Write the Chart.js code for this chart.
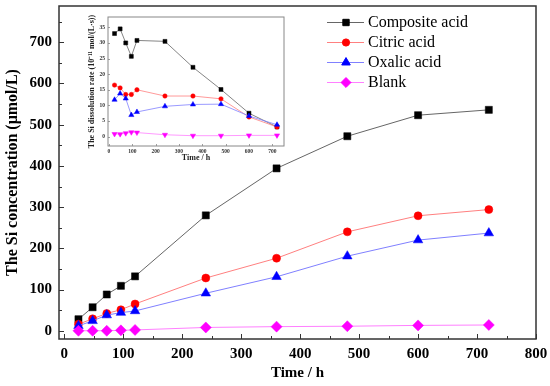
<!DOCTYPE html>
<html>
<head>
<meta charset="utf-8">
<script src="https://cdn.jsdelivr.net/npm/chart.js@4/dist/chart.umd.min.js"></script>
<style>
  html, body { margin: 0; padding: 0; background: #fff; }
  #wrap { position: relative; width: 550px; height: 386px; }
  #main { position: absolute; left: 0; top: 0; }
  #inset { position: absolute; left: 84px; top: 10px; }
</style>
</head>
<body>
<div id="wrap">
  <canvas id="main" width="550" height="386"></canvas>
  <canvas id="inset" width="206" height="164"></canvas>
</div>
<script>
// sampling times (h)
const hours = [24, 48, 72, 96, 120, 240, 360, 480, 600, 720];
const seriesNames = ["Composite acid", "Citric acid", "Oxalic acid", "Blank"];

// Si concentration (umol/L), main plot
const compositeConc = [28, 57, 88, 109, 132, 280, 394, 472, 523, 536];
const citricConc    = [16, 29, 42, 51, 65, 128, 176, 240, 279, 294];
const oxalicConc    = [12, 24, 38, 44, 48, 91, 131, 181, 220, 237];
const blankConc     = [0, 0, 0, 1, 2, 8, 10, 11, 13, 14];

// Si dissolution rate (10^-11 mol/(L·s)), inset
const compositeRate = [33.0, 34.5, 30.0, 25.7, 30.8, 30.5, 22.2, 15.1, 7.5, 3.1];
const citricRate    = [16.5, 15.6, 13.5, 13.5, 15.0, 13.0, 13.0, 12.1, 6.3, 3.1];
const oxalicRate    = [11.8, 13.8, 12.2, 6.9, 7.9, 9.7, 10.3, 10.4, 6.6, 3.8];
const blankRate     = [0.85, 0.8, 1.1, 1.4, 1.3, 0.6, 0.3, 0.3, 0.4, 0.4];

// tick labels
const xTicks = [0, 100, 200, 300, 400, 500, 600, 700, 800];
const yTicks = [0, 100, 200, 300, 400, 500, 600, 700];
const xMinor = [50, 150, 250, 350, 450, 550, 650, 750];
const yMinor = [50, 150, 250, 350, 450, 550, 650, 750];
const insetXTicks = [0, 100, 200, 300, 400, 500, 600, 700];
const insetYTicks = [0, 5, 10, 15, 20, 25, 30, 35];

const lineColors  = ["#666666", "#ff8080", "#8080ff", "#ff80ff"];
const pointColors = ["#000000", "#ff0000", "#0000ff", "#ff00ff"];
const mainStyles  = [
  { pointStyle: "rect", radius: 5, rotation: 0 },
  { pointStyle: "circle", radius: 4, rotation: 0 },
  { pointStyle: "triangle", radius: 5.5, rotation: 0 },
  { pointStyle: "rectRot", radius: 5.5, rotation: 0 }
];
const insetStyles = [
  { pointStyle: "rect", radius: 2.8, rotation: 0 },
  { pointStyle: "circle", radius: 2.2, rotation: 0 },
  { pointStyle: "triangle", radius: 3, rotation: 0 },
  { pointStyle: "triangle", radius: 3, rotation: 180 }
];

const serif = "'Liberation Serif', 'Times New Roman', serif";

function makeDatasets(series, styles, lineWidth) {
  return series.map((vals, i) => ({
    label: seriesNames[i],
    data: hours.map((h, j) => ({ x: h, y: vals[j] })),
    borderColor: lineColors[i],
    borderWidth: lineWidth,
    backgroundColor: pointColors[i],
    pointBackgroundColor: pointColors[i],
    pointBorderColor: pointColors[i],
    pointBorderWidth: 0.5,
    pointStyle: styles[i].pointStyle,
    pointRadius: styles[i].radius,
    pointRotation: styles[i].rotation,
    pointHoverRadius: styles[i].radius,
    tension: 0,
    order: 3 - i
  }));
}

// drop the label overhang padding so the plot box sits where we want it
function noPad(s) {
  s.paddingTop = 0; s.paddingBottom = 0; s.paddingLeft = 0; s.paddingRight = 0;
}

// frame round the plot area plus inward ticks
function frameTicks(cfg) {
  return {
    id: "frameTicks",
    afterDraw(chart) {
      const { ctx, chartArea: a, scales } = chart;
      ctx.save();
      ctx.strokeStyle = cfg.color;
      ctx.lineWidth = cfg.frameWidth;
      ctx.strokeRect(a.left, a.top, a.right - a.left, a.bottom - a.top);
      ctx.lineWidth = cfg.tickWidth;
      ctx.beginPath();
      const xt = (vals, len) => vals.forEach(v => {
        const px = Math.round(scales.x.getPixelForValue(v)) + 0.5;
        ctx.moveTo(px, a.bottom);
        ctx.lineTo(px, a.bottom - len);
      });
      const yt = (vals, len) => vals.forEach(v => {
        const py = Math.round(scales.y.getPixelForValue(v)) + 0.5;
        ctx.moveTo(a.left, py);
        ctx.lineTo(a.left + len, py);
      });
      xt(cfg.xMajor, cfg.major);
      yt(cfg.yMajor, cfg.major);
      xt(cfg.xMinor || [], cfg.minor);
      yt(cfg.yMinor || [], cfg.minor);
      ctx.stroke();
      ctx.restore();
    }
  };
}

// legend drawn inside the plot, top right
const mainLegend = {
  id: "mainLegend",
  afterDraw(chart) {
    const ctx = chart.ctx;
    ctx.save();
    seriesNames.forEach((name, i) => {
      const y = 22 + i * 20;
      ctx.strokeStyle = lineColors[i];
      ctx.lineWidth = 1;
      ctx.beginPath();
      ctx.moveTo(327, y + 0.5);
      ctx.lineTo(364, y + 0.5);
      ctx.stroke();
      ctx.fillStyle = pointColors[i];
      ctx.strokeStyle = pointColors[i];
      Chart.helpers.drawPoint(ctx, {
        pointStyle: mainStyles[i].pointStyle,
        radius: mainStyles[i].radius * 0.9,
        rotation: 0,
        borderWidth: 0.5
      }, 346, y + 0.5);
      ctx.fillStyle = "#000";
      ctx.font = "16px " + serif;
      ctx.textBaseline = "middle";
      ctx.textAlign = "left";
      ctx.fillText(name, 368, y + 1);
    });
    ctx.restore();
  }
};

const whiteBg = {
  id: "whiteBg",
  beforeDraw(chart) {
    const ctx = chart.ctx;
    ctx.save();
    ctx.fillStyle = "#fff";
    ctx.fillRect(0, 0, chart.width, chart.height);
    ctx.restore();
  }
};

const tickFont = { family: serif, size: 15, weight: "bold" };

new Chart(document.getElementById("main"), {
  type: "line",
  data: { datasets: makeDatasets([compositeConc, citricConc, oxalicConc, blankConc], mainStyles, 1) },
  options: {
    responsive: false,
    animation: false,
    events: [],
    layout: { padding: { top: 5, right: 14, left: 0, bottom: 0 } },
    plugins: { legend: { display: false }, tooltip: { enabled: false } },
    scales: {
      x: {
        type: "linear",
        min: -9,
        max: 800,
        afterBuildTicks: s => { s.ticks = xTicks.map(v => ({ value: v })); },
        afterFit: s => { s.height = 47; noPad(s); },
        grid: { display: false, drawTicks: false },
        border: { display: false },
        ticks: { color: "#000", font: tickFont, padding: 6, maxRotation: 0 },
        title: { display: true, text: "Time / h", color: "#000", font: { family: serif, size: 15, weight: "bold" }, padding: { top: 0, bottom: 4 } }
      },
      y: {
        type: "linear",
        min: -20,
        max: 788,
        afterBuildTicks: s => { s.ticks = yTicks.map(v => ({ value: v })); },
        afterFit: s => { s.width = 59; noPad(s); },
        grid: { display: false, drawTicks: false },
        border: { display: false },
        ticks: { color: "#000", font: tickFont, padding: 7 },
        title: { display: true, text: "The Si concentration (\u03bcmol/L)", color: "#000", font: { family: serif, size: 16, weight: "bold" }, padding: { top: 3, bottom: 0 } }
      }
    }
  },
  plugins: [whiteBg, frameTicks({ color: "#333", frameWidth: 1.5, tickWidth: 1, major: 5, minor: 3, xMajor: xTicks, yMajor: yTicks, xMinor: xMinor, yMinor: yMinor }), mainLegend]
});

const insetTickFont = { family: serif, size: 5.5, weight: "bold" };

new Chart(document.getElementById("inset"), {
  type: "line",
  data: { datasets: makeDatasets([compositeRate, citricRate, oxalicRate, blankRate], insetStyles, 0.8) },
  options: {
    responsive: false,
    animation: false,
    events: [],
    layout: { padding: { top: 7, right: 6, left: 0, bottom: 0 } },
    plugins: { legend: { display: false }, tooltip: { enabled: false } },
    scales: {
      x: {
        type: "linear",
        min: -4,
        max: 750,
        afterBuildTicks: s => { s.ticks = insetXTicks.map(v => ({ value: v })); },
        afterFit: s => { s.height = 28; noPad(s); },
        grid: { display: false, drawTicks: false },
        border: { display: false },
        ticks: { color: "#333", font: insetTickFont, padding: 2, maxRotation: 0 },
        title: { display: true, text: "Time / h", color: "#222", font: { family: serif, size: 8, weight: "bold" }, padding: { top: 0, bottom: 11 } }
      },
      y: {
        type: "linear",
        min: -3,
        max: 38.3,
        afterBuildTicks: s => { s.ticks = insetYTicks.map(v => ({ value: v })); },
        afterFit: s => { s.width = 24; noPad(s); },
        grid: { display: false, drawTicks: false },
        border: { display: false },
        ticks: { color: "#333", font: insetTickFont, padding: 3 },
        title: { display: true, text: "The Si dissolution rate (10\u207b\u00b9\u00b9 mol/(L\u00b7s))", color: "#222", font: { family: serif, size: 8, weight: "bold" }, padding: { top: 3, bottom: 0 } }
      }
    }
  },
  plugins: [frameTicks({ color: "#888", frameWidth: 1, tickWidth: 0.8, major: 2, minor: 1, xMajor: insetXTicks, yMajor: insetYTicks })]
});
</script>
</body>
</html>
